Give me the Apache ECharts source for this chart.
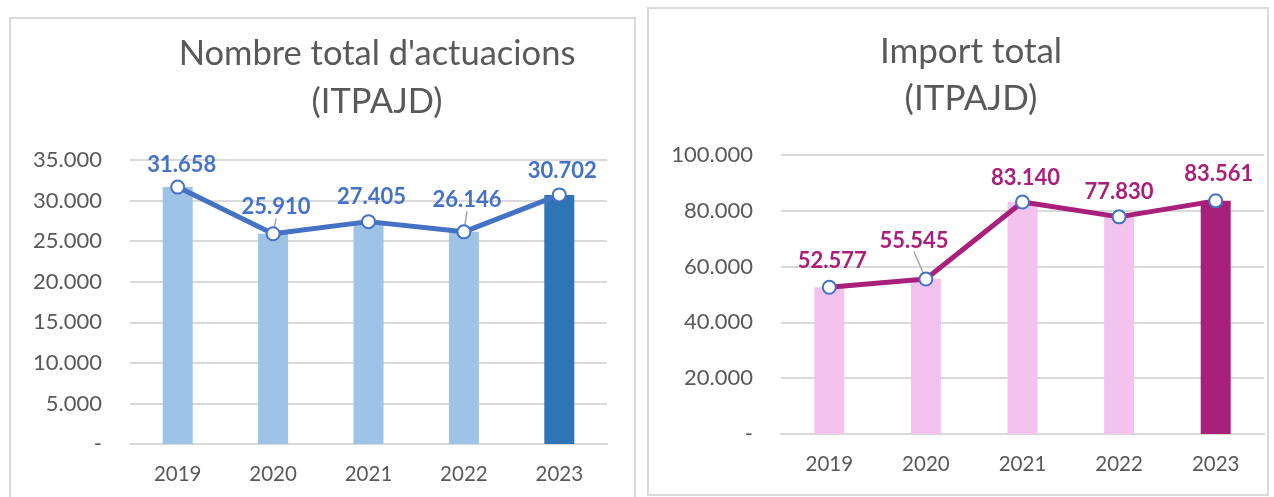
<!DOCTYPE html>
<html>
<head>
<meta charset="utf-8">
<script src="https://cdn.jsdelivr.net/npm/echarts@6/dist/echarts.min.js"></script>
<style>
  html, body { margin: 0; padding: 0; background: #fff; }
  #main { width: 1274px; height: 497px; }
</style>
</head>
<body>
<div id="main"></div>
<script>
var years = ['2019', '2020', '2021', '2022', '2023'];
var actuacions = [31658, 25910, 27405, 26146, 30702];
var importTotal = [52577, 55545, 83140, 77830, 83561];

// label nudges [dx, dy] per point
var leftNudge = [[4, 1], [3, -3], [3, -1], [3, -8], [3, 0]];
var rightNudge = [[3, -3], [-12, -15], [3, -1], [0, -1], [3, -3]];

var FONT = 'Lato';
var GREY = '#595959';

function fmt(v) {
  if (v === 0) return '-';
  return String(v).replace(/\B(?=(\d{3})+(?!\d))/g, '.');
}

function barData(vals, light, dark) {
  return vals.map(function (v, i) {
    return { value: v, itemStyle: { color: i === vals.length - 1 ? dark : light } };
  });
}

function lineData(vals, leaders) {
  return vals.map(function (v, i) {
    return { value: v, labelLine: { show: leaders.indexOf(i) >= 0 } };
  });
}

var hh = document.getElementById('main');
var echart = echarts.init(hh);

echart.setOption({
  animation: false,
  textStyle: { fontFamily: FONT },
  graphic: [
    { type: 'rect', shape: { x: 10, y: 18, width: 625, height: 495 }, style: { fill: 'none', stroke: '#D9D9D9', lineWidth: 2 } },
    { type: 'rect', shape: { x: 648, y: 8, width: 620, height: 487 }, style: { fill: 'none', stroke: '#D9D9D9', lineWidth: 2 } }
  ],
  title: [
    { text: "Nombre total d'actuacions\n(ITPAJD)", left: 372, top: 25, textAlign: 'center',
      textStyle: { fontFamily: FONT, fontSize: 34.5, fontWeight: 'normal', color: GREY, lineHeight: 48 } },
    { text: 'Import total\n(ITPAJD)', left: 966, top: 23, textAlign: 'center',
      textStyle: { fontFamily: FONT, fontSize: 35, fontWeight: 'normal', color: GREY, lineHeight: 47 } }
  ],
  grid: [
    { left: 130, top: 160, width: 477, height: 284 },
    { left: 781, top: 155, width: 483, height: 279 }
  ],
  xAxis: [0, 1].map(function (g) {
    return {
      type: 'category', gridIndex: g, data: years,
      axisLine: { lineStyle: { color: '#D9D9D9', width: 2 } },
      axisTick: { show: false },
      axisLabel: { color: GREY, fontSize: 20.5, margin: 20, fontFamily: FONT }
    };
  }),
  yAxis: [
    { type: 'value', gridIndex: 0, min: 0, max: 35000, interval: 5000 },
    { type: 'value', gridIndex: 1, min: 0, max: 100000, interval: 20000 }
  ].map(function (a) {
    a.axisLine = { show: false };
    a.axisTick = { show: false };
    a.splitLine = { lineStyle: { color: '#D9D9D9', width: 2 } };
    a.axisLabel = { color: GREY, fontSize: 22, margin: 28, fontFamily: FONT, formatter: fmt };
    return a;
  }),
  series: [
    { type: 'bar', xAxisIndex: 0, yAxisIndex: 0, barWidth: 30,
      data: barData(actuacions, '#9DC3E6', '#2E75B6') },
    { type: 'line', xAxisIndex: 0, yAxisIndex: 0, data: lineData(actuacions, [1, 3]),
      symbol: 'circle', symbolSize: 13,
      lineStyle: { color: '#4472C4', width: 5 },
      itemStyle: { color: '#fff', borderColor: '#4472C4', borderWidth: 2 },
      label: { show: true, position: 'top', distance: 5, color: '#4472C4', fontWeight: 'bold',
        fontSize: 22, fontFamily: FONT, formatter: function (p) { return fmt(p.value); } },
      labelLine: { lineStyle: { color: '#A6A6A6', width: 1.5 } },
      labelLayout: function (p) { var n = leftNudge[p.dataIndex]; return { dx: n[0], dy: n[1] }; }
    },
    { type: 'bar', xAxisIndex: 1, yAxisIndex: 1, barWidth: 30,
      data: barData(importTotal, '#F4C2EE', '#A9207A') },
    { type: 'line', xAxisIndex: 1, yAxisIndex: 1, data: lineData(importTotal, [1]),
      symbol: 'circle', symbolSize: 13,
      lineStyle: { color: '#A9207A', width: 5 },
      itemStyle: { color: '#fff', borderColor: '#4472C4', borderWidth: 2 },
      label: { show: true, position: 'top', distance: 5, color: '#A9207A', fontWeight: 'bold',
        fontSize: 22, fontFamily: FONT, formatter: function (p) { return fmt(p.value); } },
      labelLine: { lineStyle: { color: '#A6A6A6', width: 1.5 } },
      labelLayout: function (p) { var n = rightNudge[p.dataIndex]; return { dx: n[0], dy: n[1] }; }
    }
  ]
});

window.addEventListener('resize', function () {
  if (echart) {
    echart.resize();
  }
});
</script>
</body>
</html>
